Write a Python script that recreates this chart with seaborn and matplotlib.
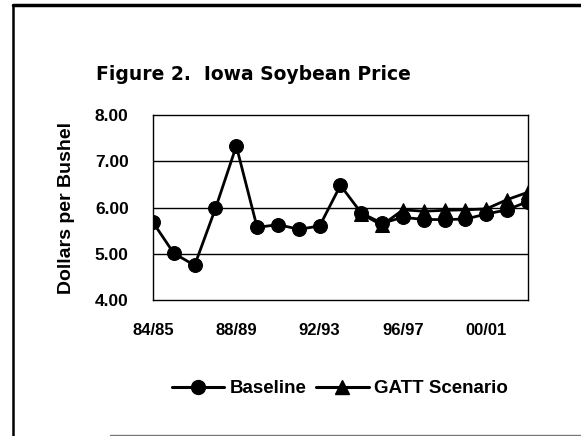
import matplotlib
matplotlib.use("Agg")
import matplotlib.pyplot as plt
import pandas as pd
import seaborn as sb
from matplotlib.lines import Line2D

seasons = ["84/85", "85/86", "86/87", "87/88", "88/89", "89/90", "90/91", "91/92",
           "92/93", "93/94", "94/95", "95/96", "96/97", "97/98", "98/99", "99/00",
           "00/01", "01/02", "02/03"]
baseline = [5.68, 5.01, 4.75, 5.98, 7.33, 5.57, 5.63, 5.53, 5.60, 6.48,
            5.88, 5.66, 5.79, 5.74, 5.74, 5.75, 5.86, 5.95, 6.13]
gatt_seasons = seasons[10:]
gatt = [5.86, 5.62, 5.95, 5.92, 5.94, 5.95, 5.97, 6.17, 6.33]
shown_labels = ["84/85", "88/89", "92/93", "96/97", "00/01"]
y_ticks = [4.0, 5.0, 6.0, 7.0, 8.0]

df = pd.concat([
    pd.DataFrame({"season": seasons, "price": baseline, "series": "Baseline"}),
    pd.DataFrame({"season": gatt_seasons, "price": gatt, "series": "GATT Scenario"}),
])
df["pos"] = df["season"].map({s: i for i, s in enumerate(seasons)})

sb.set_style("white")
plt.rcParams["font.family"] = ["Liberation Sans", "DejaVu Sans"]
plt.rcParams["font.weight"] = "bold"
plt.rcParams["text.color"] = "black"
plt.rcParams["axes.labelcolor"] = "black"
plt.rcParams["xtick.color"] = "black"
plt.rcParams["ytick.color"] = "black"

fig = plt.figure(figsize=(5.81, 4.36), dpi=100)
ax = fig.add_axes([0.2633, 0.3119, 0.6454, 0.4243])

sb.lineplot(data=df, x="pos", y="price", hue="series", style="series",
            markers={"Baseline": "o", "GATT Scenario": "^"}, dashes=False,
            palette={"Baseline": "black", "GATT Scenario": "black"},
            linewidth=2.0, markersize=10, markeredgecolor="black",
            ax=ax, legend=False, sort=False)

ax.set_xlim(0, len(seasons) - 1)
ax.set_ylim(4, 8)
ax.set_xticks(range(len(seasons)))
ax.set_xticklabels([s if s in shown_labels else "" for s in seasons], fontsize=12, fontweight="bold")
ax.set_yticks(y_ticks)
ax.set_yticklabels([f"{v:.2f}" for v in y_ticks], fontsize=12.5, fontweight="bold")
ax.tick_params(axis="both", direction="inout", length=7, width=0.8, color="black")
ax.tick_params(axis="x", pad=13)
ax.tick_params(axis="y", pad=14)
for v in [5, 6, 7]:
    ax.axhline(v, color="black", lw=1.0, zorder=0)
for side in ["left", "bottom", "top", "right"]:
    ax.spines[side].set_visible(True)
    ax.spines[side].set_color("black")
    ax.spines[side].set_linewidth(1.0)
ax.set_xlabel("")
ax.set_ylabel("Dollars per Bushel", fontsize=14, fontweight="bold", labelpad=14)

fig.text(0.437, 0.828, "Figure 2.  Iowa Soybean Price", ha="center", va="center",
         fontsize=13.5, fontweight="bold", family=["DejaVu Sans"])

handles = [
    Line2D([], [], color="black", lw=2.2, marker="o", markersize=10),
    Line2D([], [], color="black", lw=2.2, marker="^", markersize=10),
]
fig.legend(handles, ["Baseline", "GATT Scenario"], loc="center", ncol=2,
           bbox_to_anchor=(0.585, 0.108), frameon=False, handlelength=2.8,
           columnspacing=0.5, handletextpad=0.3,
           prop={"size": 13.5, "weight": "bold"})

# page frame
fig.add_artist(Line2D([0.022, 1.0], [0.988, 0.988], color="black", lw=2.5, transform=fig.transFigure))
fig.add_artist(Line2D([0.022, 0.022], [0.0, 0.988], color="black", lw=1.8, transform=fig.transFigure))
fig.add_artist(Line2D([0.19, 1.0], [0.003, 0.003], color="#777777", lw=1.0, transform=fig.transFigure))

fig.savefig("out.png", dpi=100)
